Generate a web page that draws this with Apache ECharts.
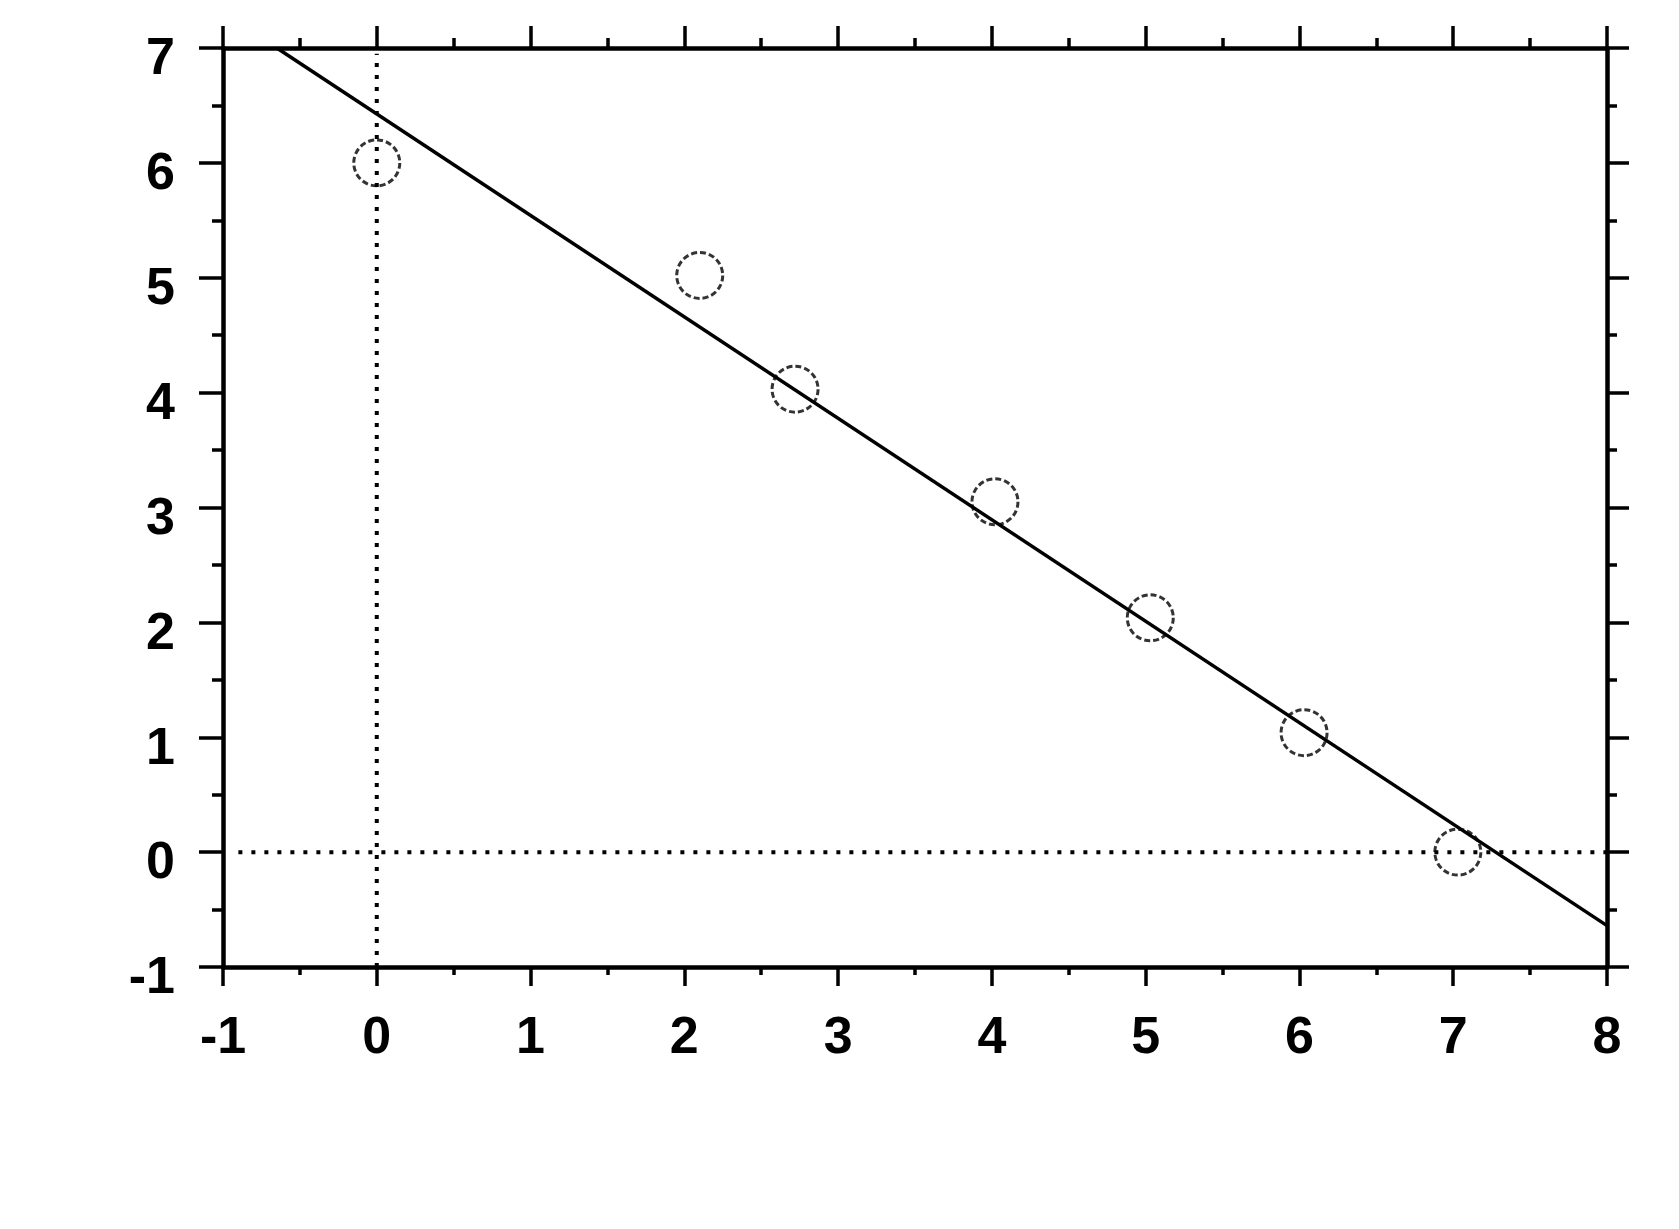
<!DOCTYPE html>
<html>
<head>
<meta charset="utf-8">
<script src="https://cdn.jsdelivr.net/npm/echarts@6/dist/echarts.min.js"></script>
<style>
  html, body { margin: 0; padding: 0; background: #fff; }
  #my_chart { width: 1679px; height: 1229px; }
</style>
</head>
<body>
<div id="my_chart"></div>
<script>
// measured points (circles)
var pointX = [0, 2.1, 2.72, 4.02, 5.03, 6.03, 7.03];
var pointY = [6.0, 5.02, 4.03, 3.05, 2.04, 1.04, 0.0];
// fitted straight line, ends
var fitX = [-0.65, 8];
var fitY = [7, -0.64];
// dotted reference lines
var vRefX = [0, 0];
var vRefY = [-1, 6.95];
var hRefX = [-0.9, 8];
var hRefY = [0, 0];

function pairs(xs, ys) {
  return xs.map(function (x, i) { return [x, ys[i]]; });
}

var black = '#000';
var labelFont = { fontSize: 52, fontWeight: 'bold', color: black, fontFamily: 'Liberation Sans, Arial, sans-serif' };

function axis(pos, min, max, tickLen, minorLen, label) {
  return {
    type: 'value',
    position: pos,
    min: min,
    max: max,
    interval: 1,
    axisLine: { show: true, onZero: false, lineStyle: { color: black, width: 4.5 } },
    axisTick: { show: true, length: tickLen, lineStyle: { color: black, width: 3.5 } },
    minorTick: { show: true, splitNumber: 2, length: minorLen, lineStyle: { color: black, width: 3.5 } },
    splitLine: { show: false },
    minorSplitLine: { show: false },
    axisLabel: label
  };
}

var chart = echarts.init(document.getElementById('my_chart'));
chart.setOption({
  animation: false,
  backgroundColor: '#fff',
  grid: { left: 223, right: 72, top: 48, bottom: 262, containLabel: false },
  xAxis: [
    axis('bottom', -1, 8, 19, 8, Object.assign({ show: true, margin: 46 }, labelFont)),
    axis('top', -1, 8, 22, 10, { show: false })
  ],
  yAxis: [
    axis('left', -1, 7, 24, 11, Object.assign({ show: true, margin: 48, verticalAlign: 'top', lineHeight: 24 }, labelFont)),
    axis('right', -1, 7, 22, 10, { show: false })
  ],
  series: [
    {
      type: 'line',
      data: pairs(vRefX, vRefY),
      showSymbol: false,
      lineStyle: { color: black, width: 4, type: [4, 8] },
      silent: true
    },
    {
      type: 'line',
      data: pairs(hRefX, hRefY),
      showSymbol: false,
      lineStyle: { color: black, width: 4, type: [4, 9] },
      silent: true
    },
    {
      type: 'line',
      data: pairs(fitX, fitY),
      showSymbol: false,
      lineStyle: { color: black, width: 3.5 },
      silent: true
    },
    {
      type: 'scatter',
      data: pairs(pointX, pointY),
      symbol: 'circle',
      symbolSize: 46,
      itemStyle: { color: 'rgba(0,0,0,0)', borderColor: black, borderWidth: 3, borderType: [6, 3] }
    }
  ]
});
</script>
</body>
</html>
